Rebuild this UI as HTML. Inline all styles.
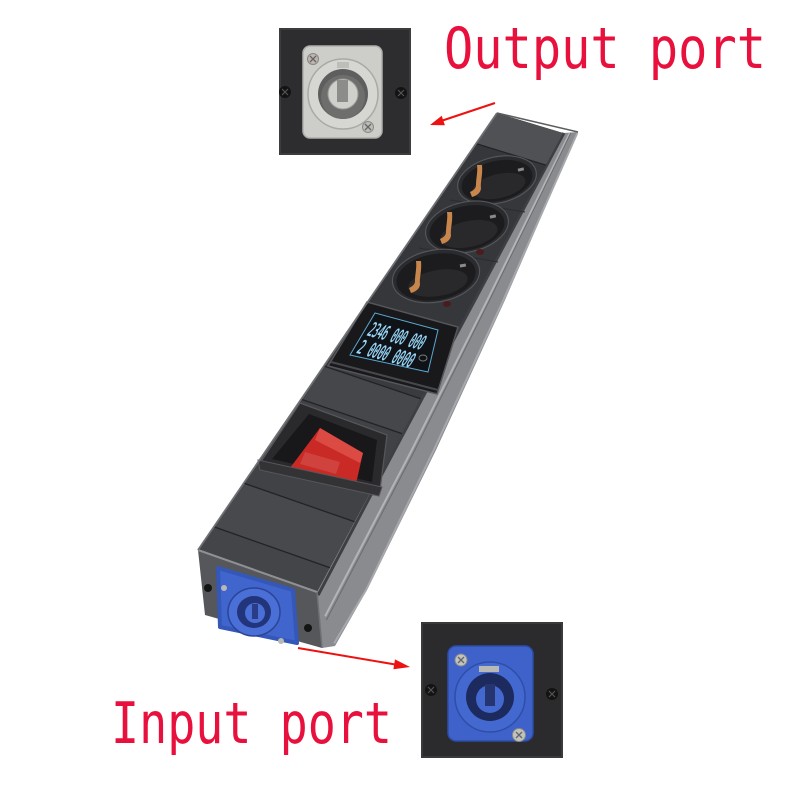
<!DOCTYPE html>
<html>
<head>
<meta charset="utf-8">
<style>
  html,body{margin:0;padding:0;background:#ffffff;}
  svg{display:block;}
</style>
</head>
<body>
<svg width="800" height="800" viewBox="0 0 800 800" xmlns="http://www.w3.org/2000/svg">
  <rect x="0" y="0" width="800" height="800" fill="#ffffff"/>

  <!-- ===== Labels ===== -->
  <text x="444" y="68" font-family="'DejaVu Sans Mono','Liberation Mono',monospace" font-size="57" fill="#e8103c" textLength="322" lengthAdjust="spacingAndGlyphs">Output port</text>
  <text x="111" y="743" font-family="'DejaVu Sans Mono','Liberation Mono',monospace" font-size="57" fill="#e8103c" textLength="281" lengthAdjust="spacingAndGlyphs">Input port</text>

  <!-- ===== Top inset (output port) ===== -->
  <rect x="280" y="29" width="130" height="125" fill="#2d2d2f"/>
  <rect x="280" y="29" width="130" height="125" fill="none" stroke="#3c3c3e" stroke-width="2"/>
  <rect x="303" y="46" width="79" height="92" rx="7" fill="#cdcdca" stroke="#aeaeab" stroke-width="1.5"/>
  <circle cx="343" cy="94" r="35" fill="#d6d6d3" stroke="#a9a9a6" stroke-width="1.5"/>
  <circle cx="343" cy="94" r="25" fill="#5e5e5e"/>
  <circle cx="343" cy="97" r="22" fill="#6e6e6c"/>
  <circle cx="343" cy="94" r="15" fill="#cfcfcc" stroke="#9a9a98" stroke-width="1"/>
  <rect x="337" y="80" width="11" height="22" fill="#8c8c8a"/>
  <rect x="337" y="62" width="12" height="6" fill="#bdbdba"/>
  <circle cx="313" cy="59" r="5.5" fill="#bcb6b2" stroke="#8a8480"/>
  <path d="M310,56 L316,62 M316,56 L310,62" stroke="#6a6460" stroke-width="1.3"/>
  <circle cx="368" cy="127" r="5.5" fill="#bcbcb8" stroke="#8a8a86"/>
  <path d="M365,124 L371,130 M371,124 L365,130" stroke="#666" stroke-width="1.3"/>
  <circle cx="285" cy="92" r="6" fill="#131313"/>
  <path d="M282,89 L288,95 M288,89 L282,95" stroke="#555" stroke-width="1.2"/>
  <circle cx="401" cy="93" r="6" fill="#131313"/>
  <path d="M398,90 L404,96 M404,90 L398,96" stroke="#555" stroke-width="1.2"/>

  <!-- ===== Bottom inset (input port) ===== -->
  <rect x="422" y="623" width="140" height="134" fill="#2b2b2d"/>
  <rect x="422" y="623" width="140" height="134" fill="none" stroke="#3a3a3c" stroke-width="2"/>
  <rect x="448" y="646" width="85" height="95" rx="8" fill="#3e62c9" stroke="#2d4ca8" stroke-width="1.5"/>
  <circle cx="490" cy="697" r="35" fill="#4368d0" stroke="#2e4ea8" stroke-width="1.5"/>
  <circle cx="490" cy="697" r="24" fill="#1d2a5e"/>
  <circle cx="490" cy="699" r="14" fill="#4368d0"/>
  <rect x="485" y="684" width="10" height="22" fill="#26356f"/>
  <rect x="479" y="666" width="20" height="6" fill="#b8b8b6"/>
  <circle cx="461" cy="660" r="6" fill="#c2c2be" stroke="#8a8a86"/>
  <path d="M458,657 L464,663 M464,657 L458,663" stroke="#666" stroke-width="1.3"/>
  <circle cx="519" cy="735" r="6.5" fill="#c2c2be" stroke="#8a8a86"/>
  <path d="M516,732 L522,738 M522,732 L516,738" stroke="#666" stroke-width="1.3"/>
  <circle cx="431" cy="690" r="6" fill="#131313"/>
  <path d="M428,687 L434,693 M434,687 L428,693" stroke="#555" stroke-width="1.2"/>
  <circle cx="552" cy="694" r="6" fill="#131313"/>
  <path d="M549,691 L555,697 M555,691 L549,697" stroke="#555" stroke-width="1.2"/>

  <!-- ===== Power strip ===== -->
  <!-- side band -->
  <polygon points="563,133 578,132 505,300 436,450 368,588 335,646 322,648 317,592" fill="#898b8f"/>
  <polyline points="563.9,133 474.9,300 394.6,450 318.1,595.2" fill="none" stroke="#3e3f43" stroke-width="3"/>
  <polyline points="569.8,133 487.4,300 411.8,450 325.1,616.3" fill="none" stroke="#b2b4b8" stroke-width="2"/>
  <polyline points="570.8,133 489.6,300 414.9,450 326.4,620" fill="none" stroke="#6a6c70" stroke-width="1"/>
  <polyline points="577.3,133 503.4,300 433.8,450 366,590 334.1,643.3" fill="none" stroke="#a6a8ac" stroke-width="2"/>

  <!-- front face -->
  <polygon points="497,113 563,133 317,592 198,550" fill="#3d3e42"/>
  <!-- panels -->
  <polygon points="497,113 563,133 545.8,165.1 476.1,143.6" fill="#505155"/>
  <polygon points="476.1,143.6 545.8,165.1 456.7,331.3 367.8,301.8" fill="#36373a"/>
  <polygon points="367.8,301.8 456.7,331.3 420.6,398.8 323.9,366" fill="#3a3b3e"/>
  <polygon points="323.9,366 420.6,398.8 401.9,433.6 301.2,399.2" fill="#46474b"/>
  <polygon points="301.2,399.2 401.9,433.6 354.6,521.8 243.7,483.1" fill="#414246"/>
  <polygon points="243.7,483.1 354.6,521.8 330,567.7 213.8,526.8" fill="#48494d"/>
  <polygon points="213.8,526.8 330,567.7 317,592 198,550" fill="#444549"/>
  <!-- separators -->
  <g stroke="#222326" stroke-width="1.3">
    <line x1="476.1" y1="143.6" x2="545.8" y2="165.1"/>
    <line x1="367.8" y1="301.8" x2="456.7" y2="331.3"/>
    <line x1="323.9" y1="366" x2="420.6" y2="398.8"/>
    <line x1="301.2" y1="399.2" x2="401.9" y2="433.6"/>
    <line x1="243.7" y1="483.1" x2="354.6" y2="521.8"/>
    <line x1="213.8" y1="526.8" x2="330" y2="567.7"/>
  </g>
  <g stroke="#2b2c2f" stroke-width="1">
    <line x1="450" y1="200" x2="525" y2="212"/>
    <line x1="419" y1="248" x2="498" y2="262"/>
  </g>

  <!-- sockets -->
  <g>
    <ellipse cx="497" cy="180" rx="40" ry="23" transform="rotate(-13 497 180)" fill="#2a2b2e" stroke="#55565a" stroke-width="1.2"/>
    <ellipse cx="497" cy="181" rx="36" ry="20" transform="rotate(-13 497 181)" fill="#1c1c1e"/>
    <ellipse cx="499" cy="186" rx="27" ry="12" transform="rotate(-13 499 186)" fill="#29292b"/>
    <path d="M482,165 C483,175 480,183 481,188 C481,193 476,196 472,197 L470,192 C474,190 476,188 476,185 C476,178 478,172 477,165 Z" fill="#c8864c"/>
    <rect x="518" y="168" width="6" height="3" fill="#8a8a8c" transform="rotate(-13 521 170)"/>

    <ellipse cx="467" cy="227" rx="42" ry="25" transform="rotate(-12 467 227)" fill="#2a2b2e" stroke="#55565a" stroke-width="1.2"/>
    <ellipse cx="467" cy="228" rx="38" ry="22" transform="rotate(-12 467 228)" fill="#1c1c1e"/>
    <ellipse cx="469" cy="234" rx="29" ry="13" transform="rotate(-12 469 234)" fill="#29292b"/>
    <path d="M452,212 C453,222 450,230 451,235 C451,240 446,243 442,244 L440,239 C444,237 446,235 446,232 C446,225 448,219 447,212 Z" fill="#c8864c"/>
    <rect x="490" y="215" width="6" height="3" fill="#8a8a8c" transform="rotate(-12 493 217)"/>
    <ellipse cx="480" cy="252" rx="4" ry="3" fill="#4a1c1e"/>

    <ellipse cx="436" cy="276" rx="44" ry="26" transform="rotate(-10 436 276)" fill="#2a2b2e" stroke="#55565a" stroke-width="1.2"/>
    <ellipse cx="436" cy="277" rx="40" ry="23" transform="rotate(-10 436 277)" fill="#1c1c1e"/>
    <ellipse cx="438" cy="283" rx="30" ry="13" transform="rotate(-10 438 283)" fill="#29292b"/>
    <path d="M421,261 C422,271 419,279 420,284 C420,289 415,292 411,293 L409,288 C413,286 415,284 415,281 C415,274 417,268 416,261 Z" fill="#c8864c"/>
    <rect x="460" y="264" width="6" height="3" fill="#8a8a8c" transform="rotate(-10 463 266)"/>
    <ellipse cx="447" cy="304" rx="4" ry="3" fill="#4a1c1e"/>
  </g>

  <!-- display module -->
  <polygon points="367,302 458,327 437,394 328,366" fill="#19191b" stroke="#55565a" stroke-width="1.5"/>
  <line x1="331" y1="362" x2="438" y2="390" stroke="#47484c" stroke-width="2"/>
  <polygon points="375,313 438,330 428,372 350,355" fill="#0f1216" stroke="#5aa8d0" stroke-width="1"/>
  <g transform="matrix(0.63,0.17,-0.25,0.42,375,313)">
    <text x="6" y="50" font-family="'DejaVu Sans Mono','Liberation Mono',monospace" font-size="42" fill="#9ad8fa" stroke="#9ad8fa" stroke-width="1.2" textLength="86" lengthAdjust="spacingAndGlyphs">2346 000 000</text>
    <text x="6" y="92" font-family="'DejaVu Sans Mono','Liberation Mono',monospace" font-size="42" fill="#9ad8fa" stroke="#9ad8fa" stroke-width="1.2" textLength="86" lengthAdjust="spacingAndGlyphs">2 0000 0000</text>
  </g>
  <ellipse cx="423" cy="358" rx="4" ry="3" fill="none" stroke="#7a7a7e" stroke-width="1"/>

  <!-- switch -->
  <polygon points="300,403 387,435 380,490 260,463" fill="#2a2a2c" stroke="#56575a" stroke-width="1.2"/>
  <polygon points="309,414 377,440 372,482 272,459" fill="#18181a"/>
  <polygon points="320,428 363,453 355,488 290,468" fill="#c92a26"/>
  <polygon points="320,428 363,453 360,463 315,440" fill="#dc4a44"/>
  <polygon points="305,452 340,462 336,474 300,464" fill="#d65a55" opacity="0.5"/>
  <polygon points="258,460 382,487 379,496 260,470" fill="#333336" stroke="#55565a" stroke-width="1"/>

  <!-- end face -->
  <polygon points="198,550 317,592 322,648 205,615" fill="#55575b"/>
  <line x1="198" y1="550" x2="317" y2="592" stroke="#8e9094" stroke-width="2"/>
  <line x1="317" y1="592" x2="322" y2="648" stroke="#6e7074" stroke-width="1.5"/>
  <circle cx="208" cy="588" r="4" fill="#141414"/>
  <circle cx="308" cy="628" r="4" fill="#141414"/>

  <!-- blue input connector on end -->
  <polygon points="218,568 293,590 297,643 220,627" fill="#4065cc" stroke="#3457b8" stroke-width="4" stroke-linejoin="round"/>
  <ellipse cx="254" cy="612" rx="26" ry="24" fill="#4a6fd6" stroke="#2a4498" stroke-width="1.5"/>
  <ellipse cx="254" cy="612" rx="17" ry="16" fill="#22347a"/>
  <ellipse cx="255" cy="613" rx="10" ry="10" fill="#4a6fd6"/>
  <rect x="252" y="604" width="6" height="15" fill="#2a3c86"/>
  <circle cx="224" cy="588" r="3" fill="#b8b8b8"/>
  <circle cx="281" cy="641" r="3" fill="#b8b8b8"/>

  <!-- edge highlights -->
  <line x1="497" y1="113" x2="198" y2="550" stroke="#6e7074" stroke-width="1.8"/>
  <line x1="497" y1="113" x2="578" y2="132" stroke="#5c5d61" stroke-width="1.5"/>

  <!-- ===== Arrows ===== -->
  <line x1="495" y1="103" x2="441" y2="121" stroke="#ee1111" stroke-width="2"/>
  <polygon points="430,125 444.9,125.2 441.7,115.8" fill="#ee1111"/>
  <line x1="298" y1="648" x2="396" y2="664.6" stroke="#ee1111" stroke-width="2"/>
  <polygon points="410,667 393.4,669.2 395,659.4" fill="#ee1111"/>
</svg>
</body>
</html>
